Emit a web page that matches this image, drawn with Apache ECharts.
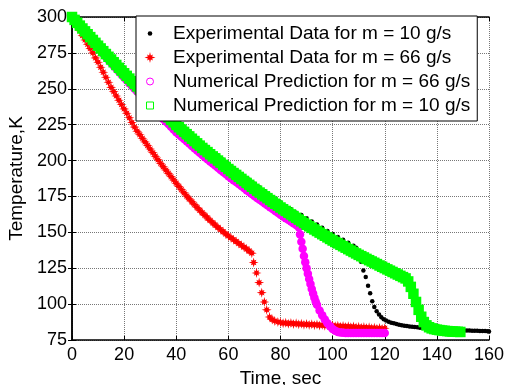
<!DOCTYPE html>
<html>
<head>
<meta charset="utf-8">
<script src="https://cdn.jsdelivr.net/npm/echarts@6/dist/echarts.min.js"></script>
<style>
html,body{margin:0;padding:0;background:#fff;}
#chart{width:505px;height:385px;}
</style>
</head>
<body>
<div id="chart"></div>
<script>
// ---------- data ----------
const seriesNames = [
  'Experimental Data for m = 10 g/s',
  'Experimental Data for m = 66 g/s',
  'Numerical Prediction for m = 66 g/s',
  'Numerical Prediction for m = 10 g/s'
];
const xTicks = [0, 20, 40, 60, 80, 100, 120, 140, 160];
const yTicks = [75, 100, 125, 150, 175, 200, 225, 250, 275, 300];

// Experimental, m = 10 g/s (black dots)
const exp10Time = [
  0,2,4,6,8,10,12,14,16,18,20,22,24,26,28,30,32,34,36,38,
  40,42,44,46,48,50,52,54,56,58,60,62,64,66,68,70,72,74,76,78,
  80,82,84,86,88,90,92,94,96,98,100,102,104,106,108,109,110,
  110.9,111.8,112.7,113.6,114.4,115.2,116.0,116.9,117.8,118.7,119.6,
  120.5,121.5,122.5,123.5,124.5,125.5,126.5,127.5,128.5,129.5,130.5,131.5,132.5,133.5,134.5,135.5,136.5,137.5,138.5,139.5,
  140.5,141.5,142.5,143.5,144.5,145.5,146.5,147.5,148.5,149.5,150.5,151.5,152.5,153.5,154.5,155.5,156.5,157.5,158.5,159.5,160
];
const exp10Temp = [
  300,298.5,295,291.5,287.5,283.5,279.7,275.8,272,268.1,264.3,260.6,256.9,253.2,249.5,245.8,242.3,238.8,235.3,231.8,
  228.3,225.1,221.9,218.7,215.5,212.3,209.4,206.4,203.5,200.5,197.6,194.8,192.1,189.3,186.6,183.8,181.2,178.6,176,173.4,
  170.8,168.4,166,163.6,162,159.8,157.6,155.4,153.2,151,148.8,146.8,144.8,142.8,140.6,139.2,136,
  129.5,123.5,118.8,112.8,107.5,102,98,95,92.7,90.8,89.5,
  88.5,87.7,87.1,86.6,86.1,85.7,85.3,85,84.7,84.4,84.2,84,83.8,83.6,83.4,83.3,83.1,83,82.9,82.8,
  82.7,82.6,82.5,82.4,82.3,82.2,82.1,82,81.9,81.8,81.7,81.7,81.6,81.5,81.5,81.4,81.3,81.3,81.2,81.1,81
];

// Experimental, m = 66 g/s (red stars)
const exp66Time = [
  0,1,2,3,4,5,6,7,8,9,10,11,12,13,14,15,16,17,18,19,
  20,21,22,23,24,25,26,27,28,29,30,31,32,33,34,35,36,37,38,39,
  40,41,42,43,44,45,46,47,48,49,50,51,52,53,54,55,56,57,58,59,
  60,61,62,63,64,65,66,67,68,69,
  69.7,70.8,71.8,72.8,73.8,74.7,75.8,76.8,77.8,
  79,80,81,82,83,84,85,86,87,88,89,90,91,92,93,94,95,96,97,98,99,
  100,101,102,103,104,105,106,107,108,109,110,111,112,113,114,115,116,117,118,119,120
];
const exp66Temp = [
  300,297,293.5,290.5,287,284,281,278,275,271.5,268.5,265,261.5,258,254.5,251,248,245,242,239,
  236,233,229.8,226.5,223.3,220.5,218,215.5,213,210.5,208,205.5,203,200.5,198,195.7,193.4,191.1,188.8,186.5,
  184.2,182,179.8,177.5,175.3,173.3,171.3,169.3,167.3,165.4,163.6,161.8,160,158.3,156.6,155,153.4,151.9,150.4,148.9,
  147.5,146.2,144.9,143.6,142.3,141,139.7,138.4,137,135.5,
  129,121.7,115,108,101.5,96,91,89.2,88.3,
  87.6,87.3,86.6,87.1,86.3,86.9,86.1,86.6,85.9,86.4,85.7,86.2,85.5,86,85.3,85.8,85.1,85.6,84.9,85.4,84.7,
  85.2,84.5,85,84.3,84.8,84.1,84.6,83.9,84.4,83.7,84.2,83.5,84,83.3,83.8,83.1,83.6,82.9,83.4,82.7,83.2
];

// Numerical, m = 66 g/s (magenta circles)
const num66Time = [
  0,1,2,3,4,5,6,7,8,9,10,11,12,13,14,15,16,17,18,19,
  20,21,22,23,24,25,26,27,28,29,30,31,32,33,34,35,36,37,38,39,
  40,41,42,43,44,45,46,47,48,49,50,51,52,53,54,55,56,57,58,59,
  60,61,62,63,64,65,66,67,68,69,70,71,72,73,74,75,76,77,78,79,
  80,81,82,83,84,85,86,87,87.5,88,88.5,89,89.5,90,90.5,91,91.5,92,92.5,93,93.5,
  94,95,96,97,98,99,100,101,102,103,104,105,106,107,108,109,110,111,112,113,114,115,116,117,118,119,120
];
const num66Temp = [
  300,298,295.9,293.8,291.6,289.5,287.4,285.2,283.1,280.9,278.5,276.5,274.4,272.3,270.2,268.2,266.1,264.1,262,259.9,
  257.8,255.9,253.9,252,250,248.1,246.1,244.2,242.2,240.3,238.1,236.3,234.5,232.7,230.9,229,227.2,225.4,223.5,221.7,
  219.8,218.2,216.6,215,213.4,211.8,210.2,208.6,207,205.4,203.8,202.3,200.9,199.4,197.9,196.5,195,193.5,192,190.6,
  189.1,187.7,186.3,185,183.6,182.2,180.8,179.4,178.1,176.7,175.3,174,172.7,171.4,170.1,168.8,167.5,166.2,164.9,163.6,
  162.3,161.1,159.9,158.7,157.5,156.3,155.1,153.6,148.5,143.5,138.5,133.5,129.2,125,121.2,117.5,114,110.5,107.4,104.5,101.9,
  99.5,95.5,92.2,89.3,86.7,84.5,82.7,81.4,80.6,80.2,80,79.9,79.9,79.9,79.9,79.9,79.9,79.9,79.9,79.9,79.9,79.9,79.9,79.9,79.9,79.9,79.9
];

// Numerical, m = 10 g/s (green squares)
const num10Time = [
  0,1,2,3,4,5,6,7,8,9,10,11,12,13,14,15,16,17,18,19,
  20,21,22,23,24,25,26,27,28,29,30,31,32,33,34,35,36,37,38,39,
  40,41,42,43,44,45,46,47,48,49,50,51,52,53,54,55,56,57,58,59,
  60,61,62,63,64,65,66,67,68,69,70,71,72,73,74,75,76,77,78,79,
  80,81,82,83,84,85,86,87,88,89,90,91,92,93,94,95,96,97,98,99,
  100,101,102,103,104,105,106,107,108,109,110,111,112,113,114,115,116,117,118,119,
  120,121,122,123,124,125,126,127,128,129,130,131,132,133,134,135,136,137,138,139,
  140,141,142,143,144,145,146,147,148,149
];
const num10Temp = [
  300,298,296,294,292,290,288,286,284,282,280,278.1,276.2,274.2,272.3,270.4,268.5,266.6,264.6,262.7,
  260.8,259,257.1,255.3,253.4,251.6,249.7,247.9,246,244.2,242.3,240.6,238.8,237.1,235.3,233.6,231.8,230.1,228.3,226.6,
  224.8,223.2,221.6,220,218.4,216.8,215.2,213.6,212,210.4,208.8,207.3,205.9,204.4,202.9,201.5,200,198.5,197,195.6,
  194.1,192.7,191.3,190,188.6,187.2,185.8,184.4,183.1,181.7,180.3,179,177.7,176.4,175.1,173.8,172.5,171.2,169.9,168.6,
  167.3,166.1,164.9,163.7,162.5,161.3,160.1,158.9,157.7,156.5,155.3,154.2,153.1,152,150.9,149.8,148.7,147.6,146.5,145.4,
  144.3,143.3,142.3,141.3,140.3,139.3,138.3,137.3,136.3,135.3,134.3,133.4,132.5,131.5,130.6,129.7,128.8,127.9,126.9,126,
  125.1,124.2,123.3,122.4,121.5,120.6,119.7,118.8,117.9,115.8,112,107.2,101.5,96,91.2,87.5,85.2,83.9,83.1,82.6,
  82.2,81.9,81.6,81.4,81.2,81,80.9,80.8,80.7,80.6
];

// ---------- chart ----------
const pairs = (xs, ys) => xs.map((x, i) => [x, ys[i]]);
const FONT = 'Liberation Sans, Arial, sans-serif';
const starPath = 'path://M10,0L3.8,1.6L5.5,5.5L1.6,3.8L0,10L-1.6,3.8L-5.5,5.5L-3.8,1.6L-10,0L-3.8,-1.6L-5.5,-5.5L-1.6,-3.8L0,-10L1.6,-3.8L5.5,-5.5L3.8,-1.6Z';
const legendDot = 'path://M0,0M11,11M3.2,5.5A2.3,2.3,0,1,1,7.8,5.5A2.3,2.3,0,1,1,3.2,5.5Z';
const legendRing = 'path://M0,0M11,11M2,5.5A3.5,3.5,0,1,1,9,5.5A3.5,3.5,0,1,1,2,5.5Z';
const legendSquare = 'path://M0,0M11,11M2,2L9,2L9,9L2,9Z';

const chart = echarts.init(document.getElementById('chart'), null, {renderer: 'canvas'});
const axisLine = {show: true, lineStyle: {color: '#000', width: 1.5}};
const tick = {show: true, inside: true, length: 4, lineStyle: {color: '#000'}};

chart.setOption({
  animation: false,
  backgroundColor: '#fff',
  grid: {left: 72, right: 16, top: 17, bottom: 45, containLabel: false, outerBoundsMode: 'none'},
  xAxis: [{
    type: 'value', min: xTicks[0], max: xTicks[xTicks.length - 1], interval: 20,
    name: 'Time, sec', nameLocation: 'middle', nameGap: 27,
    nameTextStyle: {fontSize: 19, fontFamily: FONT, color: '#000'},
    axisLine: axisLine, axisTick: tick,
    axisLabel: {fontSize: 18, fontFamily: FONT, color: '#000', margin: 6},
    splitLine: {show: true, lineStyle: {color: '#777', type: 'dotted', width: 1}}
  }, {
    type: 'value', position: 'top', min: xTicks[0], max: xTicks[xTicks.length - 1], interval: 20,
    axisLine: axisLine, axisTick: tick,
    axisLabel: {show: false}, splitLine: {show: false}
  }],
  yAxis: [{
    type: 'value', min: yTicks[0], max: yTicks[yTicks.length - 1], interval: 25,
    name: 'Temperature,K', nameLocation: 'middle', nameGap: 39,
    nameTextStyle: {fontSize: 19, fontFamily: FONT, color: '#000'},
    axisLine: axisLine, axisTick: tick,
    axisLabel: {fontSize: 18, fontFamily: FONT, color: '#000', margin: 5},
    splitLine: {show: true, lineStyle: {color: '#777', type: 'dotted', width: 1}}
  }, {
    type: 'value', position: 'right', min: yTicks[0], max: yTicks[yTicks.length - 1], interval: 25,
    axisLine: axisLine, axisTick: tick,
    axisLabel: {show: false}, splitLine: {show: false}
  }],
  legend: {
    orient: 'vertical', left: 136, top: 16,
    padding: [8, 7, 6, 8], itemGap: 5, itemWidth: 36, itemHeight: 11,
    backgroundColor: '#fff', borderColor: '#000', borderWidth: 1, borderRadius: 0,
    selectedMode: false,
    textStyle: {fontSize: 19, fontFamily: FONT, color: '#000', lineHeight: 19},
    data: [
      {name: seriesNames[0], icon: legendDot, itemStyle: {color: '#000', borderWidth: 0}},
      {name: seriesNames[1], icon: starPath, itemStyle: {color: '#ff0000', borderWidth: 0}},
      {name: seriesNames[2], icon: legendRing, itemStyle: {color: '#fff', borderColor: '#ff00ff', borderWidth: 1}},
      {name: seriesNames[3], icon: legendSquare, itemStyle: {color: '#fff', borderColor: '#00ff00', borderWidth: 1}}
    ]
  },
  series: [{
    name: seriesNames[0], type: 'scatter', symbol: 'circle', symbolSize: 4.5,
    itemStyle: {color: '#000', opacity: 1}, data: pairs(exp10Time, exp10Temp)
  }, {
    name: seriesNames[1], type: 'scatter', symbol: starPath, symbolSize: 10,
    itemStyle: {color: '#ff0000', opacity: 1}, data: pairs(exp66Time, exp66Temp)
  }, {
    name: seriesNames[2], type: 'scatter', symbol: 'circle', symbolSize: 8.5,
    itemStyle: {color: '#ff00ff', opacity: 1}, data: pairs(num66Time, num66Temp)
  }, {
    name: seriesNames[3], type: 'scatter', symbol: 'rect', symbolSize: 10.5,
    itemStyle: {color: '#00ff00', opacity: 1}, data: pairs(num10Time, num10Temp)
  }]
});
</script>
</body>
</html>
